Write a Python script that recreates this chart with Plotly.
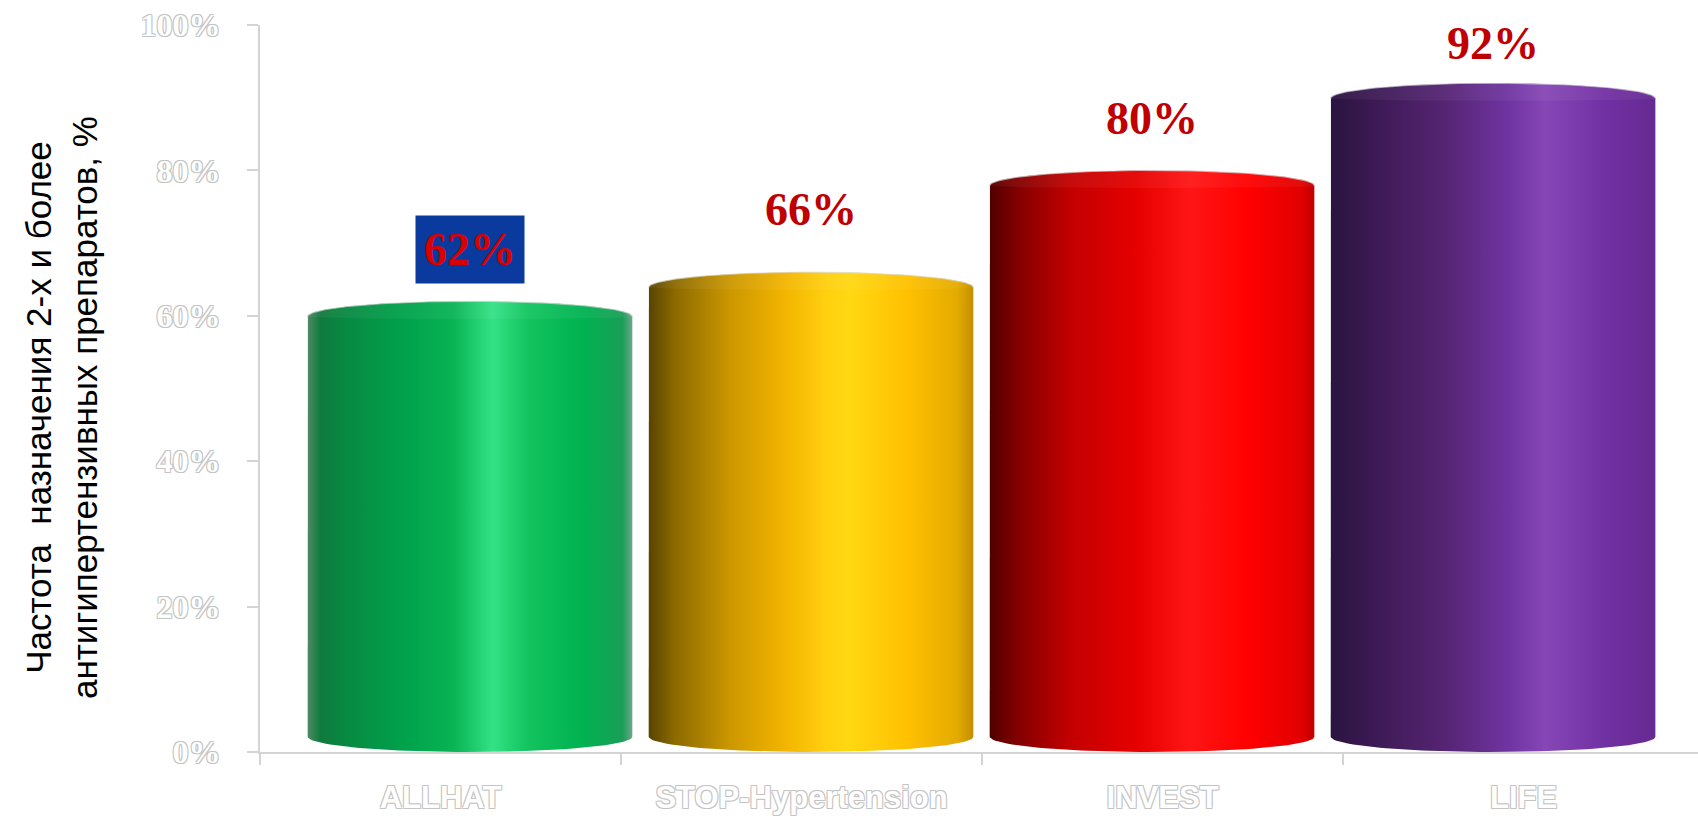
import numpy as np
import plotly.graph_objects as go

categories = ["ALLHAT", "STOP-Hypertension", "INVEST", "LIFE"]
values = [62, 66, 80, 92]
labels = ["62%", "66%", "80%", "92%"]
y_ticks = [0, 20, 40, 60, 80, 100]
y_ticktext = ["0%", "20%", "40%", "60%", "80%", "100%"]

colorscales = [
    [[0, "#4f8a62"], [0.04, "#0f7a3e"], [0.12, "#078a42"], [0.3, "#00a24c"], [0.45, "#08b454"],
     [0.57, "#33e285"], [0.68, "#12c35e"], [0.85, "#00b250"], [0.97, "#1a9e58"], [1, "#6aa888"]],
    [[0, "#584400"], [0.08, "#8c6a00"], [0.25, "#cc9700"], [0.42, "#f3b500"], [0.55, "#ffd010"],
     [0.62, "#ffd812"], [0.8, "#ffc000"], [0.95, "#e4ab00"], [1, "#c09000"]],
    [[0, "#500000"], [0.08, "#800000"], [0.25, "#c40000"], [0.45, "#e60000"], [0.62, "#ff1515"],
     [0.8, "#ff0000"], [0.96, "#e20000"], [1, "#c00000"]],
    [[0, "#2a1440"], [0.1, "#381850"], [0.35, "#552472"], [0.55, "#7034a2"], [0.66, "#8646b6"],
     [0.85, "#7130a2"], [1, "#662a92"]],
]


def lighten(scale, f):
    out = []
    for p, c in scale:
        c = c.lstrip("#")
        rgb = [int(c[i:i + 2], 16) for i in (0, 2, 4)]
        rgb = [int(v + (255 - v) * f) for v in rgb]
        out.append([p, "#%02x%02x%02x" % tuple(rgb)])
    return out


half_w = 0.476
rad = 2.1

fig = go.Figure()

for i, (v, cs) in enumerate(zip(values, colorscales)):
    t = np.linspace(0, np.pi, 60)
    xs = np.concatenate([[i - half_w], i - half_w * np.cos(t), [i + half_w], i + half_w * np.cos(t)])
    ys = np.concatenate([[rad], v - rad + rad * np.sin(t), [rad], rad - rad * np.sin(t)])
    fig.add_trace(go.Scatter(
        x=xs, y=ys, xaxis="x2", yaxis="y", mode="lines", fill="toself",
        line=dict(width=0), fillgradient=dict(type="horizontal", colorscale=cs),
        hoverinfo="skip", showlegend=False))
    # subtle top face
    tt = np.linspace(0, np.pi, 80)
    xt = np.concatenate([i - half_w * np.cos(tt), i + half_w * np.cos(tt)])
    yt = np.concatenate([v - rad + rad * np.sin(tt), v - rad - rad * 0.15 * np.sin(tt)])
    fig.add_trace(go.Scatter(
        x=xt, y=yt, xaxis="x2", yaxis="y",
        mode="lines", fill="toself", line=dict(width=0),
        fillgradient=dict(type="horizontal", colorscale=lighten(cs, 0.05)),
        hoverinfo="skip", showlegend=False))
    # thin light rim on top edge
    fig.add_trace(go.Scatter(
        x=i - half_w * np.cos(tt), y=v - rad + rad * np.sin(tt), xaxis="x2", yaxis="y",
        mode="lines", line=dict(width=1.2, color="rgba(220,220,220,0.7)"),
        hoverinfo="skip", showlegend=False))

# invisible trace for category axis
fig.add_trace(go.Scatter(x=categories, y=[None] * 4, xaxis="x", yaxis="y", showlegend=False,
                         hoverinfo="skip"))

yshifts = [52, 63, 52, 40]
for i, (v, lab) in enumerate(zip(values, labels)):
    ann = dict(x=i, y=v, xref="x2", yref="y", text="<b>%s</b>" % lab, showarrow=False,
               yshift=yshifts[i], yanchor="middle",
               font=dict(family="Liberation Serif", size=46, color="#c00000"))
    if i == 0:
        ann.update(bgcolor="#0a3a9e", borderpad=8, font=dict(family="Liberation Serif", size=46, color="#d80000"))
    fig.add_annotation(**ann)

fig.add_annotation(
    x=-0.138, y=0.474, xref="paper", yref="paper", textangle=-90, showarrow=False,
    text="Частота\u00a0 назначения 2-х и более<br>антигипертензивных препаратов, %",
    font=dict(family="Liberation Sans", size=35, color="black"), xanchor="center", yanchor="middle")

outline = "-1px -1px 0 #c4c4c4, 1px -1px 0 #c4c4c4, -1px 1px 0 #c4c4c4, 1px 1px 0 #c4c4c4"

fig.update_layout(
    width=1698, height=818,
    margin=dict(l=260, r=0, t=25, b=66),
    paper_bgcolor="white", plot_bgcolor="white",
    xaxis=dict(type="category", range=[-0.5, 3.483], tickson="boundaries", ticks="outside",
               ticklen=11, tickwidth=2, tickcolor="#d4d4d4", showline=True, linecolor="#d4d4d4",
               linewidth=2, showgrid=False, zeroline=False, ticklabelstandoff=17, automargin=False,
               tickfont=dict(family="Liberation Sans", size=31, color="white",
                             weight="bold", shadow=outline)),
    xaxis2=dict(overlaying="x", range=[-0.6158, 3.601], visible=False),
    yaxis=dict(range=[0, 100], tickvals=y_ticks, ticktext=y_ticktext, ticks="outside",
               ticklen=11, tickwidth=2, tickcolor="#d4d4d4", showline=True, linecolor="#d4d4d4",
               linewidth=2, showgrid=False, zeroline=False, ticklabelstandoff=20, automargin=False,
               tickfont=dict(family="Liberation Serif", size=32, color="white",
                             weight="bold", shadow=outline)),
)

fig.write_html("out.html")
